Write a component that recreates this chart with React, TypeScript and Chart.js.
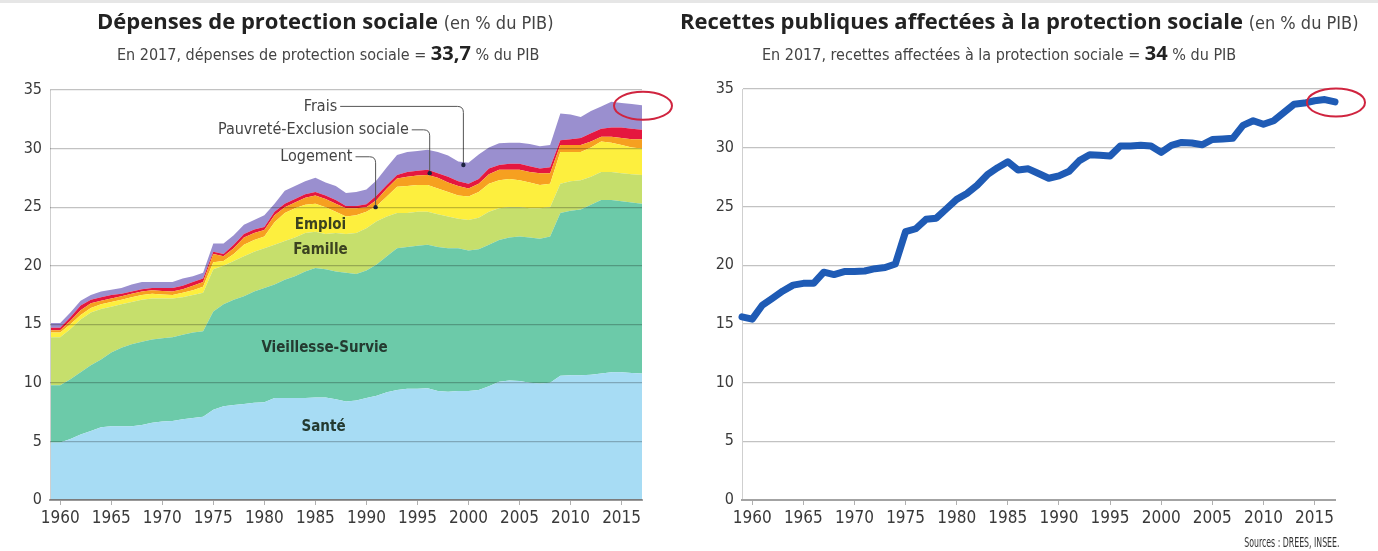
import React, { useEffect, useRef } from 'react';
import { Chart, registerables } from 'chart.js';
Chart.register(...registerables);

// ---------- data ----------
const years = [
  1959, 1960, 1961, 1962, 1963, 1964, 1965, 1966, 1967, 1968,
  1969, 1970, 1971, 1972, 1973, 1974, 1975, 1976, 1977, 1978,
  1979, 1980, 1981, 1982, 1983, 1984, 1985, 1986, 1987, 1988,
  1989, 1990, 1991, 1992, 1993, 1994, 1995, 1996, 1997, 1998,
  1999, 2000, 2001, 2002, 2003, 2004, 2005, 2006, 2007, 2008,
  2009, 2010, 2011, 2012, 2013, 2014, 2015, 2016, 2017,
];
const xTickYears = [1960, 1965, 1970, 1975, 1980, 1985, 1990, 1995, 2000, 2005, 2010, 2015];
const yTickValues = [0, 5, 10, 15, 20, 25, 30, 35];

const sante = [
  4.9, 4.9, 5.2, 5.6, 5.9, 6.2, 6.3, 6.3, 6.3, 6.4,
  6.6, 6.7, 6.75, 6.9, 7.0, 7.1, 7.7, 8.0, 8.1, 8.2,
  8.3, 8.35, 8.7, 8.7, 8.7, 8.7, 8.75, 8.75, 8.6, 8.4,
  8.5, 8.7, 8.9, 9.2, 9.4, 9.5, 9.5, 9.55, 9.3, 9.25,
  9.3, 9.3, 9.4, 9.7, 10.1, 10.2, 10.15, 10.0, 9.95, 10.0,
  10.6, 10.65, 10.65, 10.7, 10.8, 10.9, 10.9, 10.85, 10.8,
];
const vieillesse = [
  4.9, 4.9, 5.1, 5.3, 5.6, 5.8, 6.3, 6.7, 7.0, 7.1,
  7.1, 7.1, 7.15, 7.2, 7.3, 7.3, 8.4, 8.7, 9.0, 9.2,
  9.5, 9.75, 9.7, 10.1, 10.4, 10.8, 11.05, 10.95, 10.9, 11.0,
  10.8, 10.9, 11.2, 11.6, 12.1, 12.1, 12.2, 12.25, 12.3, 12.25,
  12.2, 12.0, 12.0, 12.1, 12.1, 12.2, 12.35, 12.4, 12.35, 12.5,
  13.9, 14.05, 14.15, 14.5, 14.8, 14.7, 14.6, 14.55, 14.5,
];
const famille = [
  4.1, 4.1, 4.3, 4.5, 4.5, 4.3, 3.9, 3.7, 3.6, 3.6,
  3.5, 3.4, 3.3, 3.2, 3.2, 3.3, 3.6, 3.3, 3.3, 3.4,
  3.4, 3.4, 3.4, 3.3, 3.3, 3.3, 3.1, 3.0, 3.3, 3.3,
  3.5, 3.6, 3.7, 3.4, 3.0, 2.9, 2.9, 2.8, 2.8, 2.7,
  2.5, 2.6, 2.7, 2.8, 2.7, 2.6, 2.5, 2.5, 2.6, 2.5,
  2.5, 2.5, 2.5, 2.4, 2.4, 2.4, 2.4, 2.4, 2.45,
];
const emploi = [
  0.4, 0.4, 0.4, 0.4, 0.4, 0.4, 0.4, 0.4, 0.4, 0.4,
  0.4, 0.35, 0.3, 0.4, 0.4, 0.5, 0.6, 0.4, 0.6, 1.0,
  1.0, 1.0, 1.9, 2.4, 2.5, 2.4, 2.4, 2.3, 1.8, 1.5,
  1.5, 1.4, 1.3, 1.7, 2.25, 2.3, 2.3, 2.3, 2.2, 2.1,
  2.0, 2.0, 2.2, 2.4, 2.4, 2.4, 2.3, 2.2, 2.0, 2.0,
  2.7, 2.5, 2.4, 2.5, 2.6, 2.5, 2.4, 2.3, 2.25,
];
const logement = [
  0.2, 0.2, 0.3, 0.4, 0.4, 0.3, 0.3, 0.3, 0.3, 0.3,
  0.3, 0.3, 0.3, 0.3, 0.4, 0.4, 0.7, 0.4, 0.5, 0.6,
  0.6, 0.55, 0.6, 0.5, 0.5, 0.6, 0.7, 0.7, 0.7, 0.7,
  0.6, 0.4, 0.5, 0.7, 0.7, 0.8, 0.8, 0.85, 0.9, 0.8,
  0.8, 0.7, 0.7, 0.8, 0.9, 0.8, 0.9, 0.9, 1.0, 0.9,
  0.6, 0.6, 0.6, 0.5, 0.4, 0.5, 0.6, 0.7, 0.8,
];
const pauvrete = [
  0.2, 0.2, 0.3, 0.4, 0.3, 0.3, 0.3, 0.2, 0.2, 0.2,
  0.2, 0.25, 0.3, 0.3, 0.3, 0.3, 0.2, 0.2, 0.3, 0.3,
  0.3, 0.25, 0.3, 0.3, 0.3, 0.3, 0.3, 0.3, 0.3, 0.2,
  0.2, 0.25, 0.4, 0.3, 0.3, 0.4, 0.4, 0.45, 0.4, 0.5,
  0.4, 0.4, 0.4, 0.5, 0.4, 0.5, 0.5, 0.5, 0.4, 0.5,
  0.4, 0.5, 0.6, 0.7, 0.7, 0.8, 0.9, 0.9, 0.8,
];
const frais = [
  0.4, 0.4, 0.4, 0.4, 0.4, 0.5, 0.45, 0.5, 0.6, 0.6,
  0.5, 0.5, 0.5, 0.6, 0.5, 0.5, 0.7, 0.9, 0.8, 0.8,
  0.8, 1.0, 0.7, 1.1, 1.1, 1.1, 1.2, 1.1, 1.2, 1.1,
  1.2, 1.25, 1.3, 1.5, 1.7, 1.7, 1.7, 1.7, 1.8, 1.8,
  1.7, 1.8, 2.1, 1.8, 1.85, 1.8, 1.8, 1.9, 1.9, 1.9,
  2.3, 2.1, 1.8, 1.9, 1.9, 2.2, 2.1, 2.1, 2.1,
];
const recettes = [
  15.6, 15.4, 16.6, 17.2, 17.8, 18.3, 18.45, 18.45, 19.4, 19.2,
  19.45, 19.45, 19.5, 19.7, 19.8, 20.1, 22.85, 23.1, 23.9, 24.0,
  24.8, 25.6, 26.1, 26.8, 27.7, 28.3, 28.8, 28.1, 28.2, 27.8,
  27.4, 27.6, 28.0, 28.9, 29.4, 29.35, 29.3, 30.15, 30.15, 30.2,
  30.15, 29.6, 30.2, 30.45, 30.4, 30.25, 30.7, 30.75, 30.8, 31.9,
  32.3, 32.0, 32.3, 33.0, 33.7, 33.8, 34.0, 34.1, 33.9,
];

const seriesNames = ['Santé', 'Vieillesse-Survie', 'Famille', 'Emploi', 'Logement', 'Pauvreté-Exclusion sociale', 'Frais'];
const seriesValues = [sante, vieillesse, famille, emploi, logement, pauvrete, frais];
const seriesColors = ['#a7dcf4', '#6ccaa9', '#c6df6c', '#fdef3e', '#f6a020', '#e5173f', '#9a8fcf'];

// labels with leader lines (text position and anchor in data units)
const leaderNotes = [
  { text: 'Frais', tx: 1985.5, ty: 33.6, ax: 1999.5, ay: 28.6 },
  { text: 'Pauvreté-Exclusion sociale', tx: 1984.8, ty: 31.6, ax: 1996.2, ay: 27.9 },
  { text: 'Logement', tx: 1985.1, ty: 29.3, ax: 1990.9, ay: 25.0 },
];
const innerNotes = [
  { text: 'Emploi', x: 1985.5, y: 23.5 },
  { text: 'Famille', x: 1985.5, y: 21.3 },
  { text: 'Vieillesse-Survie', x: 1985.9, y: 13.0 },
  { text: 'Santé', x: 1985.8, y: 6.2 },
];

const COND = "'Liberation Sans Narrow', 'DejaVu Sans Condensed', 'Noto Sans', sans-serif";
const BOLD = "'Open Sans', 'Noto Sans', sans-serif";

function xScaleOpts() {
  return {
    type: 'linear' as const,
    min: 1959,
    max: 2017,
    afterBuildTicks: (s: any) => { s.ticks = xTickYears.map((v) => ({ value: v })); },
    afterFit: (s: any) => { s.height = 30; },
    ticks: {
      autoSkip: false,
      maxRotation: 0,
      padding: 3,
      color: '#3a3a3a',
      font: { family: COND, size: 17 },
      callback: (v: any) => String(v),
    },
    grid: { drawOnChartArea: false, drawTicks: true, tickLength: 5, color: '#b0b0b0' },
    border: { display: true, color: '#a3a3a3', width: 2, z: 1 },
  };
}
function yScaleOpts(width: number, gridOnTop: boolean, stacked: boolean, showBorder: boolean) {
  return {
    min: 0,
    max: 35,
    stacked,
    afterBuildTicks: (s: any) => { s.ticks = yTickValues.map((v) => ({ value: v })); },
    afterFit: (s: any) => { s.width = width; },
    ticks: { padding: 8, color: '#3a3a3a', font: { family: COND, size: 16 } },
    grid: { drawTicks: false, color: 'rgba(0,0,0,0.24)', lineWidth: 1.2, z: gridOnTop ? 1 : -1 },
    border: { display: showBorder, color: '#cfcfcf', width: 1 },
  };
}

function ellipsePlugin(lastValue: number) {
  return {
    id: 'ellipse',
    afterDraw(chart: any) {
      const { ctx, scales } = chart;
      const cx = scales.x.getPixelForValue(2017);
      const cy = scales.y.getPixelForValue(lastValue);
      ctx.save();
      ctx.strokeStyle = '#d0243f';
      ctx.lineWidth = 2;
      ctx.beginPath();
      ctx.ellipse(cx + 1, cy + 0.5, 29, 14, 0, 0, Math.PI * 2);
      ctx.stroke();
      ctx.restore();
    },
  };
}

const notesPlugin = {
  id: 'notes',
  afterDatasetsDraw(chart: any) {
    const { ctx, scales, chartArea } = chart;
    const X = (v: number) => scales.x.getPixelForValue(v);
    const Y = (v: number) => scales.y.getPixelForValue(v);
    ctx.save();
    // light vertical axis line
    ctx.strokeStyle = '#cfcfcf';
    ctx.lineWidth = 1;
    ctx.beginPath();
    ctx.moveTo(chartArea.left + 0.5, chartArea.top);
    ctx.lineTo(chartArea.left + 0.5, chartArea.bottom);
    ctx.stroke();

    ctx.textAlign = 'center';
    ctx.textBaseline = 'middle';
    ctx.font = `600 15px ${COND}`;
    for (const n of innerNotes) {
      ctx.fillStyle = n.text === 'Emploi' || n.text === 'Famille' ? '#3b4220' : '#243a30';
      ctx.fillText(n.text, X(n.x), Y(n.y));
    }
    ctx.font = `500 16px ${COND}`;
    for (const n of leaderNotes) {
      const tx = X(n.tx), ty = Y(n.ty), ax = X(n.ax), ay = Y(n.ay);
      ctx.fillStyle = '#444';
      ctx.fillText(n.text, tx, ty);
      const w = ctx.measureText(n.text).width;
      const r = 6;
      ctx.strokeStyle = '#555';
      ctx.lineWidth = 1;
      ctx.beginPath();
      ctx.moveTo(tx + w / 2 + 3, ty);
      ctx.lineTo(ax - r, ty);
      ctx.quadraticCurveTo(ax, ty, ax, ty + r);
      ctx.lineTo(ax, ay);
      ctx.stroke();
      ctx.fillStyle = '#1c2340';
      ctx.beginPath();
      ctx.arc(ax, ay, 2.2, 0, Math.PI * 2);
      ctx.fill();
    }
    ctx.restore();
  },
};

function LeftChart() {
  const ref = useRef<HTMLCanvasElement>(null);
  useEffect(() => {
    const total = seriesValues.reduce((acc, arr) => acc + arr[arr.length - 1], 0);
    const chart = new Chart(ref.current!, {
      type: 'line',
      data: {
        datasets: seriesValues.map((vals, i) => ({
          label: seriesNames[i],
          data: years.map((y, k) => ({ x: y, y: vals[k] })),
          backgroundColor: seriesColors[i],
          borderColor: seriesColors[i],
          borderWidth: 0,
          pointRadius: 0,
          fill: i === 0 ? 'origin' : '-1',
          tension: 0,
        })),
      },
      options: {
        animation: false,
        responsive: false,
        maintainAspectRatio: false,
        layout: { padding: { left: 0, top: 90, right: 38, bottom: 21 } },
        plugins: { legend: { display: false }, tooltip: { enabled: false } },
        scales: { x: xScaleOpts() as any, y: yScaleOpts(50, true, true, false) as any },
      },
      plugins: [notesPlugin, ellipsePlugin(total)],
    });
    return () => chart.destroy();
  }, []);
  return <canvas ref={ref} width={680} height={551} style={{ position: 'absolute', left: 0, top: 0, width: 680, height: 551 }} />;
}

function RightChart() {
  const ref = useRef<HTMLCanvasElement>(null);
  useEffect(() => {
    const chart = new Chart(ref.current!, {
      type: 'line',
      data: {
        datasets: [{
          label: 'Recettes publiques affectées à la protection sociale',
          data: years.map((y, k) => ({ x: y, y: recettes[k] })),
          borderColor: '#1f5bb5',
          borderWidth: 7,
          borderJoinStyle: 'round',
          borderCapStyle: 'round',
          pointRadius: 0,
          fill: false,
          tension: 0,
          clip: false as any,
        }],
      },
      options: {
        animation: false,
        responsive: false,
        maintainAspectRatio: false,
        layout: { padding: { left: 0, top: 89, right: 43, bottom: 21 } },
        plugins: { legend: { display: false }, tooltip: { enabled: false } },
        scales: { x: xScaleOpts() as any, y: yScaleOpts(52, false, false, true) as any },
      },
      plugins: [ellipsePlugin(recettes[recettes.length - 1])],
    });
    return () => chart.destroy();
  }, []);
  return <canvas ref={ref} width={688} height={551} style={{ position: 'absolute', left: 690, top: 0, width: 688, height: 551 }} />;
}

export default function App() {
  const titleStyle: React.CSSProperties = { position: 'absolute', whiteSpace: 'nowrap', fontFamily: BOLD, fontWeight: 700, fontSize: 22, color: '#222', lineHeight: '26px' };
  const smallStyle: React.CSSProperties = { fontFamily: COND, fontWeight: 400, fontSize: 18, color: '#444' };
  const subStyle: React.CSSProperties = { position: 'absolute', whiteSpace: 'nowrap', fontFamily: COND, fontSize: 16, color: '#444', lineHeight: '22px' };
  const numStyle: React.CSSProperties = { fontFamily: BOLD, fontWeight: 700, fontSize: 20, color: '#222' };
  return (
    <div style={{ position: 'fixed', left: 0, top: 0, width: 1378, height: 551, background: '#fff', overflow: 'hidden' }}>
      <div style={{ position: 'absolute', left: 0, top: 0, width: 1378, height: 3, background: '#e6e6e6' }} />
      <LeftChart />
      <RightChart />
      <div style={{ ...titleStyle, left: 97, top: 7 }}>
        Dépenses de protection sociale <span style={smallStyle}>(en % du PIB)</span>
      </div>
      <div style={{ ...subStyle, left: 117, top: 42 }}>
        En 2017, dépenses de protection sociale = <span style={numStyle}>33,7</span> % du PIB
      </div>
      <div style={{ ...titleStyle, left: 680, top: 7 }}>
        Recettes publiques affectées à la protection sociale <span style={smallStyle}>(en % du PIB)</span>
      </div>
      <div style={{ ...subStyle, left: 762, top: 42 }}>
        En 2017, recettes affectées à la protection sociale = <span style={numStyle}>34</span> % du PIB
      </div>
      <div style={{ ...subStyle, fontSize: 14, right: 1378 - 1339, top: 531, color: '#333', transform: 'scaleX(0.62)', transformOrigin: 'right center' }}>
        Sources : DREES, INSEE.
      </div>
    </div>
  );
}
